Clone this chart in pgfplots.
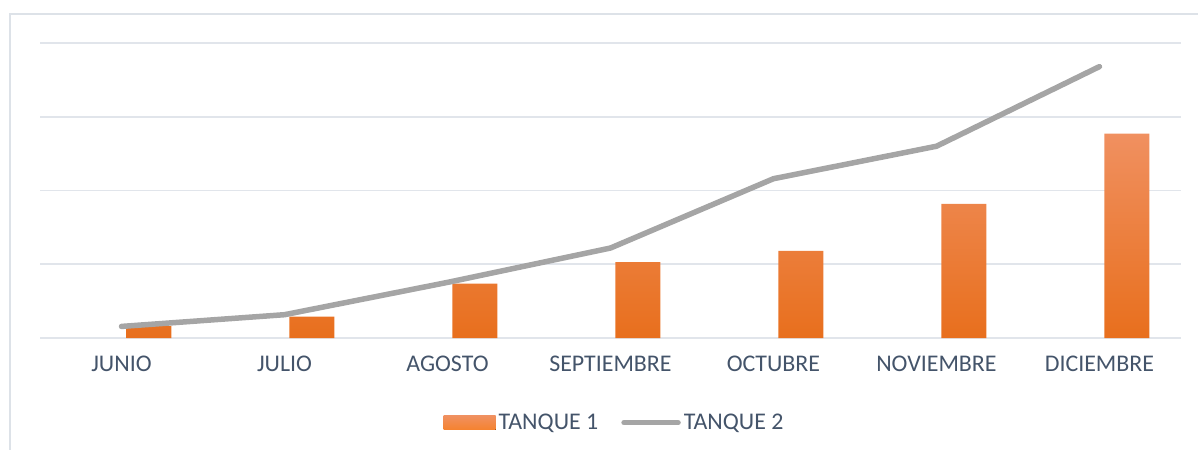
\documentclass[border=0pt]{standalone}
\usepackage{fontspec}
\setmainfont{Carlito}
\usepackage{pgfplots}
\pgfplotsset{compat=1.18}
\definecolor{txt}{HTML}{44546A}
\definecolor{gridc}{HTML}{E1E5EB}
\definecolor{framec}{HTML}{DDE2E8}
\definecolor{lgray}{HTML}{A5A5A5}
\definecolor{otop}{HTML}{F09060}
\definecolor{omid}{HTML}{F5822F}
\definecolor{obot}{HTML}{E86F1D}

\begin{document}
\begin{tikzpicture}
\path[use as bounding box] (0bp,0bp) rectangle (1198bp,-450bp);
\draw[framec,line width=1.8bp] (10bp,-450bp) -- (10bp,-14bp) -- (1198bp,-14bp);
\begin{axis}[
  at={(40bp,-43bp)}, anchor=north west,
  scale only axis, width=1141bp, height=295bp,
  xmin=-0.5, xmax=6.5, ymin=0, ymax=4,
  xtick={0,1,2,3,4,5,6},
  xticklabels={JUNIO,JULIO,AGOSTO,SEPTIEMBRE,OCTUBRE,NOVIEMBRE,DICIEMBRE},
  ytick={0,1,2,3,4}, yticklabels={},
  ymajorgrids, grid style={gridc,line width=1.6bp},
  axis line style={draw=none}, major tick length=0pt,
  tick label style={font=\fontsize{24}{28}\selectfont, text=txt},
  xticklabel style={yshift=-14bp},
  legend columns=2,
  legend style={at={(0.504,-0.287)}, anchor=center, draw=none,
    font=\fontsize{24}{28}\selectfont, text=txt,
    nodes={inner xsep=3bp},
    /tikz/every even column/.append style={column sep=20bp}},
  legend cell align=left,
]
\addplot[ybar, bar width=45bp, bar shift=27.5bp, draw=none,
  top color=otop, middle color=omid, bottom color=obot,
  legend image code/.code={\fill[top color=otop,bottom color=omid] (-2bp,-7bp) rectangle (50bp,7bp);}]
  coordinates {(0,0.16) (1,0.29) (2,0.736) (3,1.03) (4,1.18) (5,1.82) (6,2.77)};
\addlegendentry{TANQUE 1}
\addplot[sharp plot, lgray, line width=5.5bp, line cap=round, line join=round, mark=none,
  legend image code/.code={\draw[lgray,line width=5.5bp,line cap=round] (2bp,0bp) -- (56bp,0bp);}]
  coordinates {(0,0.157) (1,0.316) (2,0.754) (3,1.22) (4,2.16) (5,2.60) (6,3.68)};
\addlegendentry{TANQUE 2}
\end{axis}
\end{tikzpicture}
\end{document}
